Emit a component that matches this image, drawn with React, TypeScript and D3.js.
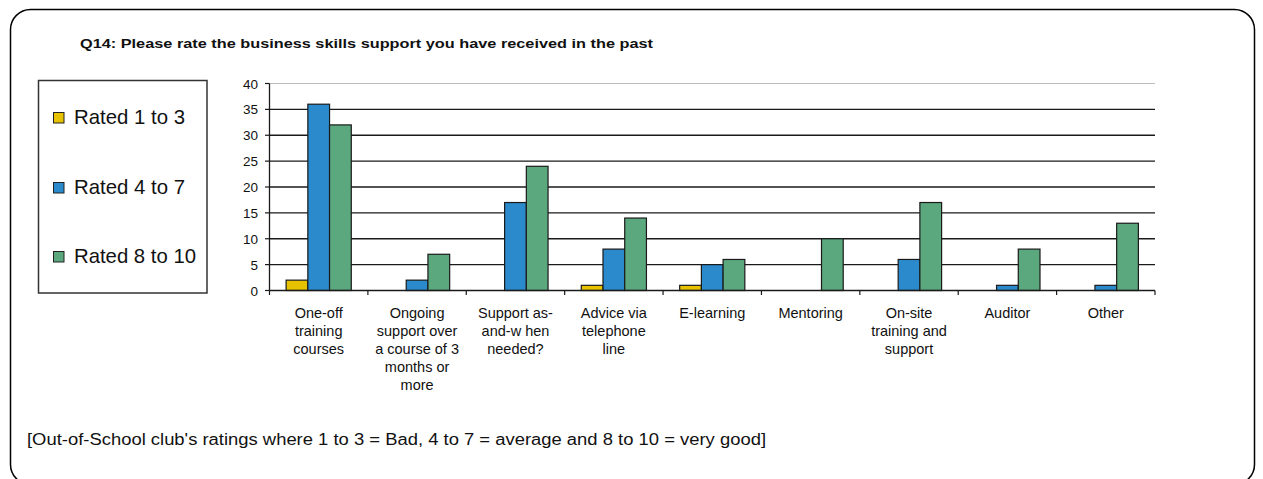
import React from "react";
import * as d3 from "d3";

const categories: string[][] = [
  ["One-off", "training", "courses"],
  ["Ongoing", "support over", "a course of 3", "months or", "more"],
  ["Support as-", "and-w hen", "needed?"],
  ["Advice via", "telephone", "line"],
  ["E-learning"],
  ["Mentoring"],
  ["On-site", "training and", "support"],
  ["Auditor"],
  ["Other"],
];
const seriesNames = ["Rated 1 to 3", "Rated 4 to 7", "Rated 8 to 10"];
const rated1to3 = [2, 0, 0, 1, 1, 0, 0, 0, 0];
const rated4to7 = [36, 2, 17, 8, 5, 0, 6, 1, 1];
const rated8to10 = [32, 7, 24, 14, 6, 10, 17, 8, 13];
const yTicks = [0, 5, 10, 15, 20, 25, 30, 35, 40];
const colors = ["#E6C200", "#2B8ACC", "#5BA87F"];

const titleText = "Q14: Please rate the business skills support you have received in the past";
const footText = "[Out-of-School club's ratings where 1 to 3 = Bad, 4 to 7 = average and 8 to 10 = very good]";

export default function App() {
  const W = 1263, H = 479;
  const left = 269.5, right = 1155, top = 83.5, bottom = 290.5;
  const series = [rated1to3, rated4to7, rated8to10];
  const idx = categories.map((_, i) => String(i));
  const x0 = d3.scaleBand<string>().domain(idx).range([left, right]).paddingInner(0).paddingOuter(0);
  const x1 = d3.scaleBand<string>().domain(["0", "1", "2"]).range([0, x0.bandwidth()]).paddingInner(0).paddingOuter(0.765);
  const y = d3.scaleLinear().domain([0, 40]).range([bottom, top]);
  const font = "Arial, 'Liberation Sans', Helvetica, sans-serif";
  const legendY = [124, 194, 263];

  return (
    <svg width={W} height={H} style={{ position: "absolute", left: 0, top: 0, background: "#fff" }} fontFamily={font}>
      <rect x={10.5} y={9.5} width={1244} height={475} rx={20} ry={20} fill="#fff" stroke="#000" strokeWidth={1.5} />
      <text x={80} y={48} fontSize={13.5} fontWeight="bold" fill="#111" textLength={573} lengthAdjust="spacingAndGlyphs">{titleText}</text>

      {/* legend */}
      <rect x={38.5} y={80.5} width={168.5} height={212.5} fill="#fff" stroke="#333" strokeWidth={1.5} />
      {seriesNames.map((s, i) => (
        <g key={s}>
          <rect x={53.5} y={legendY[i] - 11.5} width={10.5} height={10.5} fill={colors[i]} stroke="#222" strokeWidth={1} />
          <text x={74} y={legendY[i]} fontSize={21} fill="#111" textLength={i === 2 ? 122 : 111} lengthAdjust="spacingAndGlyphs">{s}</text>
        </g>
      ))}

      {/* gridlines */}
      {yTicks.filter(t => t > 0).map(t => (
        <line key={t} x1={left} x2={right} y1={y(t)} y2={y(t)} stroke={t === 40 ? "#bdbdbd" : "#1a1a1a"} strokeWidth={t === 40 ? 1 : 1.3} />
      ))}

      {/* bars */}
      {categories.map((_, ci) => (
        <g key={ci} transform={`translate(${x0(String(ci))},0)`}>
          {series.map((vals, si) => vals[ci] > 0 ? (
            <rect key={si} x={x1(String(si))} y={y(vals[ci])} width={x1.bandwidth()} height={bottom - y(vals[ci])} fill={colors[si]} stroke="#1a1a1a" strokeWidth={1.2} />
          ) : null)}
        </g>
      ))}

      {/* axes */}
      <line x1={left} x2={left} y1={top} y2={bottom} stroke="#1a1a1a" strokeWidth={1.3} />
      <line x1={left} x2={right} y1={bottom} y2={bottom} stroke="#1a1a1a" strokeWidth={1.3} />
      {yTicks.map(t => (
        <g key={t}>
          <line x1={left - 4.5} x2={left} y1={y(t)} y2={y(t)} stroke="#1a1a1a" strokeWidth={1.2} />
          <text x={258} y={y(t) + 5} fontSize={13.5} textAnchor="end" fill="#111">{t}</text>
        </g>
      ))}
      {idx.concat(["end"]).map((k, i) => {
        const xx = i < categories.length ? (x0(k) as number) : right;
        return <line key={k} x1={xx} x2={xx} y1={bottom} y2={bottom + 4.5} stroke="#1a1a1a" strokeWidth={1.2} />;
      })}
      {categories.map((lines, ci) => {
        const cx = (x0(String(ci)) as number) + x0.bandwidth() / 2;
        return (
          <text key={ci} x={cx} textAnchor="middle" fontSize={14.5} fill="#111">
            {lines.map((ln, li) => (
              <tspan key={li} x={cx} y={318 + li * 18}>{ln}</tspan>
            ))}
          </text>
        );
      })}

      <text x={27} y={445} fontSize={16} fill="#111" textLength={739} lengthAdjust="spacingAndGlyphs">{footText}</text>
    </svg>
  );
}
